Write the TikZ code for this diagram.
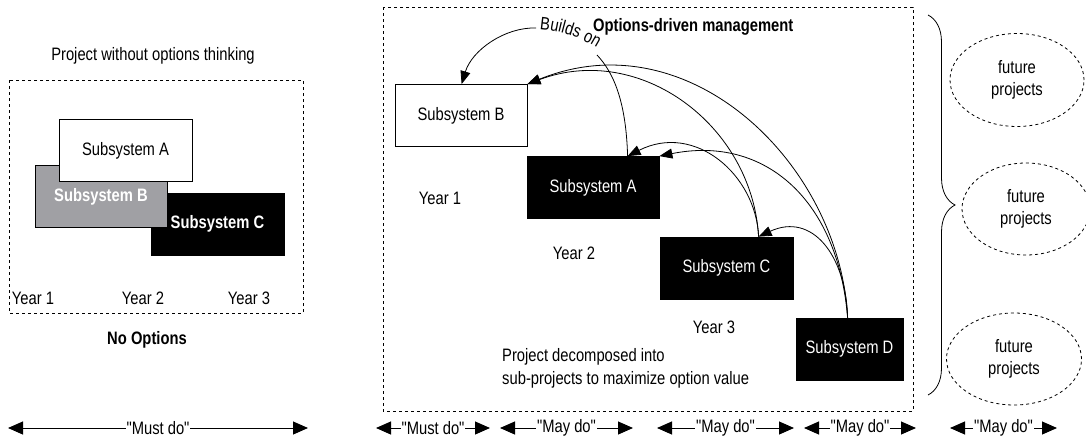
\documentclass[tikz,border=0pt]{standalone}
\usepackage{fontspec}
\setmainfont{Liberation Sans}[FakeStretch=0.82, Ligatures=TeXOff]
\usetikzlibrary{arrows.meta,shapes.geometric,decorations.pathreplacing,decorations.text}
\definecolor{boxgray}{RGB}{160,160,164}

\begin{document}
\begin{tikzpicture}[x=1pt,y=-1pt,
  font=\fontsize{18}{22}\selectfont,
  box/.style={draw=black, line width=0.8pt, minimum width=132pt, minimum height=62pt, inner sep=0pt},
  whitebox/.style={box, fill=white, text=black},
  blackbox/.style={box, fill=black, text=white},
  graybox/.style={box, fill=boxgray, text=white},
  boldtext/.style={font=\fontsize{18}{22}\selectfont\bfseries},
  frame/.style={draw, dash pattern=on 3pt off 3pt, line width=0.8pt},
  link/.style={line width=0.8pt, -{Triangle[length=13pt,width=10pt]}},
  span/.style={line width=1pt, {Triangle[length=15pt,width=13pt]}-{Triangle[length=15pt,width=13pt]}},
  spanlabel/.style={fill=white, inner xsep=1pt, inner ysep=0pt},
  future/.style={ellipse, draw, dash pattern=on 3pt off 3pt, line width=0.8pt, align=center,
                 inner sep=0pt, minimum width=134pt, minimum height=93pt},
  lbl/.style={inner sep=0pt},
]
\useasboundingbox (0,0) rectangle (1086,442);

% ---------- conventional project ----------
\node[lbl] (ltitle) at (153,56) {Project without options thinking};
\draw[frame] (9,80) rectangle (303,313);
\node[blackbox, boldtext, minimum width=133pt] (lC) at (217.5,224) {Subsystem C};
\node[graybox, boldtext] (lB) at (101,196.5) {Subsystem B};
\node[whitebox, minimum width=133pt] (lA) at (125.5,150.5) {Subsystem A};
\node[lbl] (ly1) at (33,298) {Year 1};
\node[lbl] (ly2) at (143,298) {Year 2};
\node[lbl] (ly3) at (249,298) {Year 3};
\node[lbl, boldtext] (nopt) at (147,340) {No Options};

% ---------- options-driven project ----------
\draw[frame] (383,7) rectangle (913,411);
\node[lbl, boldtext, anchor=west] (rtitle) at (593,27) {Options-driven management};
\node[whitebox] (rB) at (461,115.5) {Subsystem B};
\node[blackbox] (rA) at (593,187.5) {Subsystem A};
\node[blackbox, minimum width=133pt] (rC) at (726.5,268) {Subsystem C};
\node[blackbox, minimum width=107pt] (rD) at (849.5,349) {Subsystem D};
\node[lbl] (ry1) at (440,198) {Year 1};
\node[lbl] (ry2) at (574,253) {Year 2};
\node[lbl] (ry3) at (714,327) {Year 3};
\node[lbl, anchor=base west] (desc1) at (502,361) {Project decomposed into};
\node[lbl, anchor=base west] (desc2) at (502,384) {sub-projects to maximize option value};

% attachment points on the subsystem boxes
\coordinate (Bt) at ([xshift=67pt]rB.north west);
\coordinate (At) at ([xshift=101pt]rA.north west);
\coordinate (Ct) at ([xshift=99pt]rC.north west);
\coordinate (Dt) at ([xshift=52pt]rD.north west);

% "Builds on" link from A to B, interrupted by its label
\coordinate (bo1) at (597,55);
\coordinate (bo2) at (536,28);
\coordinate (tx1) at (536,29);
\coordinate (tx2) at (600,50);
\draw[line width=0.8pt] (At) .. controls (626,100) and (613,72) .. (bo1);
\path[decorate, decoration={text along path, text align=center,
      text={|\fontsize{18}{22}\selectfont|Builds on}}]
  (tx1) .. controls (558,30) and (580,37) .. (tx2);
\draw[link] (bo2) .. controls (505,27) and (472,50) .. (Bt);

% dependencies of the later subsystems
\draw[link] (Ct) .. controls (752,125) and (640,42) .. (rB.north east);
\draw[link] (Dt) .. controls (840,165) and (690,18) .. (rB.north east);
\draw[link] (Ct) .. controls (756,175) and (695,122) .. (At);
\draw[link] (Dt) .. controls (838,200) and (765,135) .. (rA.north east);
\draw[link] (Dt) .. controls (846,255) and (812,212) .. (Ct);

% future projects
\coordinate (brT) at (928,15);
\coordinate (brB) at (928,395);
\draw[line width=0.8pt, decorate, decoration={brace, amplitude=27pt}] (brT) -- (brB);
\node[future] (f1) at (1017,80) {future\\projects};
\node[future, minimum width=128pt, minimum height=92pt] (f2) at (1026,209) {future\\projects};
\node[future, minimum width=135pt, minimum height=92pt] (f3) at (1014,359) {future\\projects};

% time spans
\coordinate (s1a) at (8,428);   \coordinate (s1b) at (308,428);
\coordinate (s2a) at (376,428); \coordinate (s2b) at (490,428);
\coordinate (s3a) at (500,428); \coordinate (s3b) at (633,428);
\coordinate (s4a) at (657,428); \coordinate (s4b) at (794,428);
\coordinate (s5a) at (804,428); \coordinate (s5b) at (916,428);
\coordinate (s6a) at (950,428); \coordinate (s6b) at (1057,428);
\draw[span] (s1a) -- (s1b) node[midway, spanlabel] {"Must do"};
\draw[span] (s2a) -- (s2b) node[midway, spanlabel] {"Must do"};
\draw[span] (s3a) -- (s3b) node[midway, spanlabel] {"May do"};
\draw[span] (s4a) -- (s4b) node[midway, spanlabel] {"May do"};
\draw[span] (s5a) -- (s5b) node[midway, spanlabel] {"May do"};
\draw[span] (s6a) -- (s6b) node[midway, spanlabel] {"May do"};
\end{tikzpicture}
\end{document}
